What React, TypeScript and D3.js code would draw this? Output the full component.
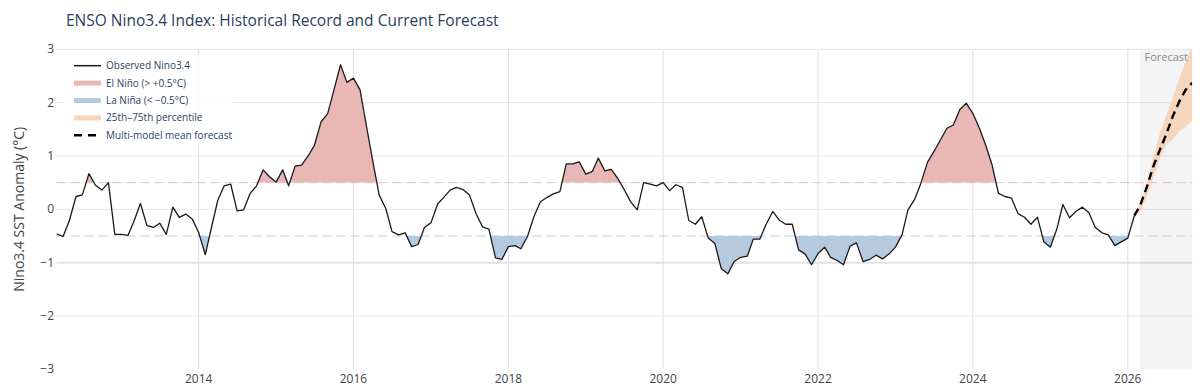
import React from "react";
import * as d3 from "d3";

const obsStart = [2012, 2]; // March 2012 (year, monthIndex)
const observed = [
  -0.46, -0.51, -0.21, 0.24, 0.27, 0.67, 0.45, 0.36, 0.5, -0.47,
  -0.47, -0.49, -0.23, 0.11, -0.3, -0.34, -0.26, -0.47, 0.04, -0.15,
  -0.09, -0.18, -0.44, -0.85, -0.36, 0.17, 0.44, 0.47, -0.03, -0.01,
  0.3, 0.44, 0.74, 0.61, 0.51, 0.74, 0.44, 0.81, 0.83, 1.0,
  1.2, 1.64, 1.79, 2.24, 2.71, 2.38, 2.46, 2.24, 1.59, 0.91,
  0.27, 0.02, -0.42, -0.48, -0.44, -0.7, -0.66, -0.34, -0.25, 0.1,
  0.22, 0.36, 0.41, 0.37, 0.27, -0.08, -0.33, -0.37, -0.91, -0.94,
  -0.7, -0.68, -0.74, -0.51, -0.14, 0.14, 0.22, 0.29, 0.33, 0.85,
  0.85, 0.89, 0.66, 0.71, 0.96, 0.72, 0.75, 0.58, 0.37, 0.14,
  -0.01, 0.5, 0.47, 0.44, 0.5, 0.35, 0.46, 0.41, -0.21, -0.28,
  -0.14, -0.54, -0.64, -1.11, -1.21, -0.98, -0.9, -0.88, -0.56, -0.56,
  -0.28, -0.04, -0.2, -0.28, -0.28, -0.76, -0.84, -1.04, -0.83, -0.71,
  -0.9, -0.96, -1.04, -0.69, -0.63, -0.98, -0.94, -0.86, -0.93, -0.84,
  -0.71, -0.48, -0.01, 0.18, 0.49, 0.88, 1.08, 1.3, 1.52, 1.58,
  1.87, 1.99, 1.8, 1.52, 1.21, 0.83, 0.3, 0.24, 0.21, -0.08,
  -0.15, -0.28, -0.15, -0.61, -0.71, -0.36, 0.09, -0.16, -0.04, 0.04,
  -0.06, -0.34, -0.44, -0.48, -0.68, -0.61, -0.54, -0.12,
];
// forecast months start right after the last observation (Mar 2026)
const forecastMean = [0.08, 0.42, 0.8, 1.11, 1.4, 1.74, 2.02, 2.24, 2.37];
const forecastLow = [-0.05, 0.24, 0.58, 0.95, 1.21, 1.31, 1.46, 1.55, 1.66];
const forecastHigh = [0.12, 0.48, 0.96, 1.42, 1.76, 2.08, 2.45, 2.76, 3.05];
const thresholds = [0.5, -0.5];
const yTicks = [3, 2, 1, 0, -1, -2, -3];
const xTickYears = [2014, 2016, 2018, 2020, 2022, 2024, 2026];
const legendItems = [
  { label: "Observed Nino3.4", kind: "line" },
  { label: "El Niño (> +0.5°C)", kind: "nino" },
  { label: "La Niña (< −0.5°C)", kind: "nina" },
  { label: "25th–75th percentile", kind: "band" },
  { label: "Multi-model mean forecast", kind: "dash" },
];

const W = 1200;
const H = 388;
const left = 56.5;
const right = 1192.2;
const top = 49.3;
const bottom = 369.3;
const textColor = "#2a3f5f";
const tickColor = "#444";
const font = "'Open Sans', 'Noto Sans', Arial, sans-serif";

const monthDate = (i: number) => new Date(obsStart[0], obsStart[1] + i, 1);

export default function App() {
  const obs = observed.map((v, i) => ({ date: monthDate(i), v }));
  const nObs = observed.length;
  const last = obs[nObs - 1];
  const fc = forecastMean.map((v, i) => ({
    date: monthDate(nObs + i),
    v,
    lo: forecastLow[i],
    hi: forecastHigh[i],
  }));
  const fcLine = [{ date: last.date, v: last.v, lo: last.v, hi: last.v }, ...fc];

  const x = d3
    .scaleTime()
    .domain([obs[0].date, fc[fc.length - 1].date])
    .range([left, right]);
  const y = d3.scaleLinear().domain([-3, 3]).range([bottom, top]);

  const line = d3
    .line<{ date: Date; v: number }>()
    .x((d) => x(d.date))
    .y((d) => y(d.v));
  const ninoArea = d3
    .area<{ date: Date; v: number }>()
    .x((d) => x(d.date))
    .y0(y(0.5))
    .y1((d) => y(d.v));
  const ninaArea = d3
    .area<{ date: Date; v: number }>()
    .x((d) => x(d.date))
    .y0(y(-0.5))
    .y1((d) => y(d.v));
  const band = d3
    .area<{ date: Date; lo: number; hi: number }>()
    .x((d) => x(d.date))
    .y0((d) => y(d.lo))
    .y1((d) => y(d.hi));

  const fcStartX = x(fc[0].date);

  return (
    <svg width={W} height={H} style={{ position: "absolute", left: 0, top: 0, background: "#fff" }}>
      <defs>
        <clipPath id="plot">
          <rect x={left} y={top} width={right - left} height={bottom - top} />
        </clipPath>
        <clipPath id="above">
          <rect x={left} y={top} width={right - left} height={y(0.5) - top} />
        </clipPath>
        <clipPath id="below">
          <rect x={left} y={y(-0.5)} width={right - left} height={bottom - y(-0.5)} />
        </clipPath>
      </defs>
      <rect x={0} y={0} width={W} height={H} fill="#fff" />
      <text x={66} y={25.5} fontFamily={font} fontSize={15.5} fill={textColor}>
        ENSO Nino3.4 Index: Historical Record and Current Forecast
      </text>

      {/* grid */}
      {yTicks
        .filter((t) => t !== -3)
        .map((t) => (
          <line
            key={"gy" + t}
            x1={left}
            x2={right}
            y1={y(t)}
            y2={y(t)}
            stroke={t === -1 ? "#e2e2e6" : "#e6e6ec"}
            strokeWidth={t === -1 ? 2 : 1}
          />
        ))}
      {xTickYears.map((yr) => (
        <line
          key={"gx" + yr}
          x1={x(new Date(yr, 0, 1))}
          x2={x(new Date(yr, 0, 1))}
          y1={top}
          y2={bottom}
          stroke="#dedee6"
          strokeWidth={1}
        />
      ))}

      {/* forecast region */}
      <rect x={fcStartX} y={top} width={right - fcStartX} height={bottom - top} fill="rgba(0,0,0,0.045)" />

      {/* thresholds */}
      {thresholds.map((t) => (
        <line
          key={"th" + t}
          x1={left}
          x2={right}
          y1={y(t)}
          y2={y(t)}
          stroke={t > 0 ? "#e3c4c6" : "#c9cdd8"}
          strokeWidth={1}
          strokeDasharray="9,5"
        />
      ))}

      <g clipPath="url(#plot)">
        <path d={ninoArea(obs) || ""} fill="#e9b7b6" clipPath="url(#above)" />
        <path d={ninaArea(obs) || ""} fill="#b6cadf" clipPath="url(#below)" />
        <path d={band(fcLine) || ""} fill="#f6d5bb" opacity={0.95} />
        <path d={line(obs) || ""} fill="none" stroke="#1a1a1a" strokeWidth={1.3} strokeLinejoin="round" />
        <path d={line(fcLine) || ""} fill="none" stroke="#000" strokeWidth={2.4} strokeDasharray="8,5" />
      </g>
      <text x={(fcStartX + right) / 2} y={61} fontFamily={font} fontSize={11} fill="#8a8a8a" textAnchor="middle">
        Forecast
      </text>

      {/* y ticks */}
      {yTicks.map((t) => (
        <text
          key={"ty" + t}
          x={54}
          y={y(t) + 4}
          fontFamily={font}
          fontSize={12}
          fill={tickColor}
          textAnchor="end"
        >
          {t < 0 ? "−" + Math.abs(t) : String(t)}
        </text>
      ))}
      {xTickYears.map((yr) => (
        <text
          key={"tx" + yr}
          x={x(new Date(yr, 0, 1))}
          y={382.5}
          fontFamily={font}
          fontSize={12}
          fill={tickColor}
          textAnchor="middle"
        >
          {yr}
        </text>
      ))}
      <text
        transform={`translate(24, ${(top + bottom) / 2}) rotate(-90)`}
        fontFamily={font}
        fontSize={14}
        fill={tickColor}
        textAnchor="middle"
      >
        Nino3.4 SST Anomaly (°C)
      </text>

      {/* legend */}
      <rect x={63} y={55} width={170} height={90} fill="rgba(255,255,255,0.85)" />
      {legendItems.map((it, i) => {
        const cy = 65.7 + i * 17.4;
        let sym;
        if (it.kind === "line") sym = <line x1={74} x2={101} y1={cy} y2={cy} stroke="#1a1a1a" strokeWidth={1.5} />;
        else if (it.kind === "dash")
          sym = <line x1={74} x2={101} y1={cy} y2={cy} stroke="#000" strokeWidth={2.4} strokeDasharray="8,6" />;
        else {
          const c = it.kind === "nino" ? "#e9b7b6" : it.kind === "nina" ? "#b6cadf" : "#f6d5bb";
          sym = <rect x={74} y={cy - 2.5} width={27} height={5} fill={c} />;
        }
        return (
          <g key={it.label}>
            {sym}
            <text x={106} y={cy + 3.5} fontFamily={font} fontSize={10} fill={textColor}>
              {it.label}
            </text>
          </g>
        );
      })}
    </svg>
  );
}
